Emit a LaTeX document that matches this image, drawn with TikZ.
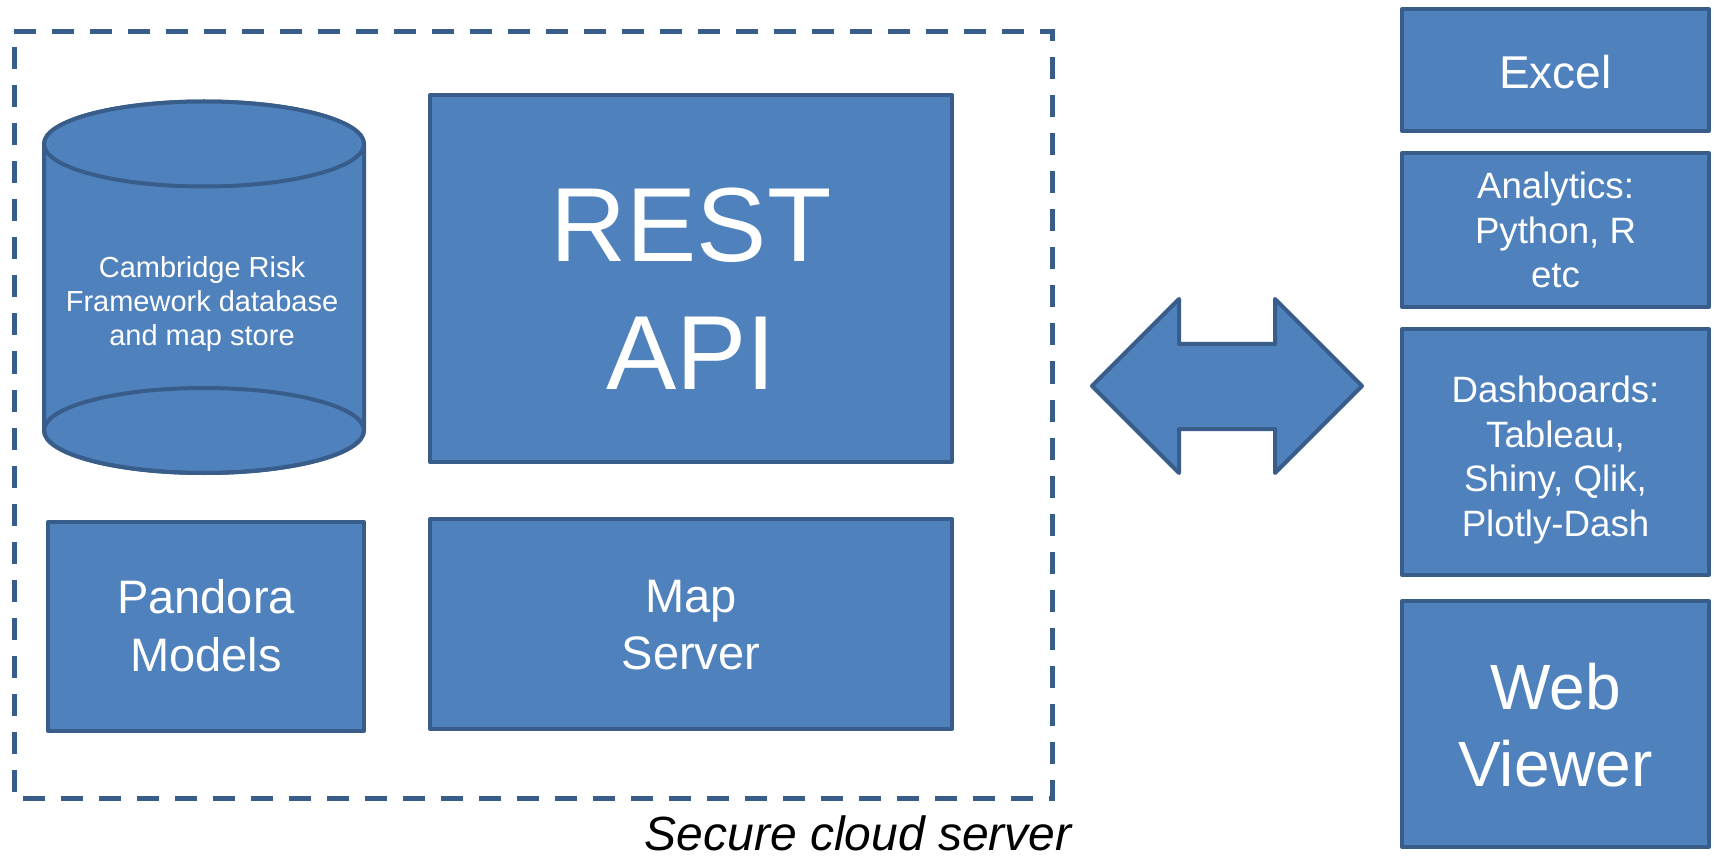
\documentclass[tikz,border=0pt]{standalone}
\usepackage{fontspec}
\setmainfont{Liberation Sans}
\definecolor{boxfill}{HTML}{4F81BD}
\definecolor{boxline}{HTML}{385D8A}
\begin{document}
\begin{tikzpicture}[x=0.75pt,y=0.75pt,
  blockbox/.style={draw=boxline,fill=boxfill,line width=3pt,rectangle,inner sep=0pt,outer sep=0pt,line join=round},
  whitetext/.style={text=white,align=center,inner sep=0pt,outer sep=0pt,text depth=0pt},
  dashframe/.style={draw=boxline,line width=3.75pt,dash pattern=on 16.5pt off 12pt}
]
\useasboundingbox (0,0) rectangle (1714,-859);
\fill[white] (0,0) rectangle (1714,-859);

% secure cloud frame
\draw[dashframe] (14,-31.5) -- (1052,-31.5) -- (1052,-798.5) -- (14,-798.5) -- cycle;
\node[anchor=base east,inner sep=0pt,font={\fontsize{36}{43}\selectfont\itshape}] (cloudlabel) at (1072,-850) {Secure cloud server};

% cylinder
\filldraw[draw=boxline,fill=boxfill,line width=3pt,line join=round]
  (44,-144) -- (44,-430.5) arc[start angle=180,end angle=360,x radius=160,y radius=42.5]
  -- (364,-144) arc[start angle=0,end angle=180,x radius=160,y radius=42.5] -- cycle;
\draw[draw=boxline,line width=3pt] (204,-430.5) ellipse[x radius=160,y radius=42.5];
\filldraw[draw=boxline,fill=boxfill,line width=3pt] (204,-144) ellipse[x radius=160,y radius=42.5];
\node[whitetext,font={\fontsize{21.75}{25.5}\selectfont}] (dbtext) at (202,-300.5) {Cambridge Risk\\Framework database\\and map store};

% inner boxes
\node[blockbox,minimum width=391.5pt,minimum height=275.25pt] (rest) at (691,-278.5) {};
\node[whitetext,font={\fontsize{79}{96}\selectfont}] (resttext) at (691,-289) {REST\\API};

\node[blockbox,minimum width=391.5pt,minimum height=157.5pt] (mapserver) at (691,-624) {};
\node[whitetext,font={\fontsize{35.25}{42.75}\selectfont}] (maptext) at (691,-625) {Map\\Server};

\node[blockbox,minimum width=237pt,minimum height=156.75pt] (pandora) at (206,-626.5) {};
\node[whitetext,font={\fontsize{35.25}{43.5}\selectfont}] (pandoratext) at (206,-625) {Pandora\\Models};

% double arrow
\filldraw[draw=boxline,fill=boxfill,line width=3pt,line join=round]
  (1092,-386) -- (1179,-299) -- (1179,-344) -- (1275,-344) -- (1275,-299) -- (1362,-386)
  -- (1275,-473) -- (1275,-429) -- (1179,-429) -- (1179,-473) -- cycle;

% right column
\node[blockbox,minimum width=230.25pt,minimum height=91.5pt] (excel) at (1555.5,-70) {};
\node[whitetext,font={\fontsize{34.5}{41}\selectfont}] (exceltext) at (1555.5,-71.5) {Excel};

\node[blockbox,minimum width=230.25pt,minimum height=115.5pt] (analytics) at (1555.5,-230) {};
\node[whitetext,font={\fontsize{27.5}{33.4}\selectfont}] (analyticstext) at (1555.5,-230) {Analytics:\\Python, R\\etc};

\node[blockbox,minimum width=230.25pt,minimum height=184.5pt] (dash) at (1555.5,-452) {};
\node[whitetext,font={\fontsize{27.5}{33.4}\selectfont}] (dashtext) at (1555.5,-456) {Dashboards:\\Tableau,\\Shiny, Qlik,\\Plotly-Dash};

\node[blockbox,minimum width=230.25pt,minimum height=184.5pt] (webviewer) at (1555.5,-724) {};
\node[whitetext,font={\fontsize{48}{57.75}\selectfont}] (webtext) at (1555.5,-724.6) {Web\\Viewer};
\end{tikzpicture}
\end{document}
